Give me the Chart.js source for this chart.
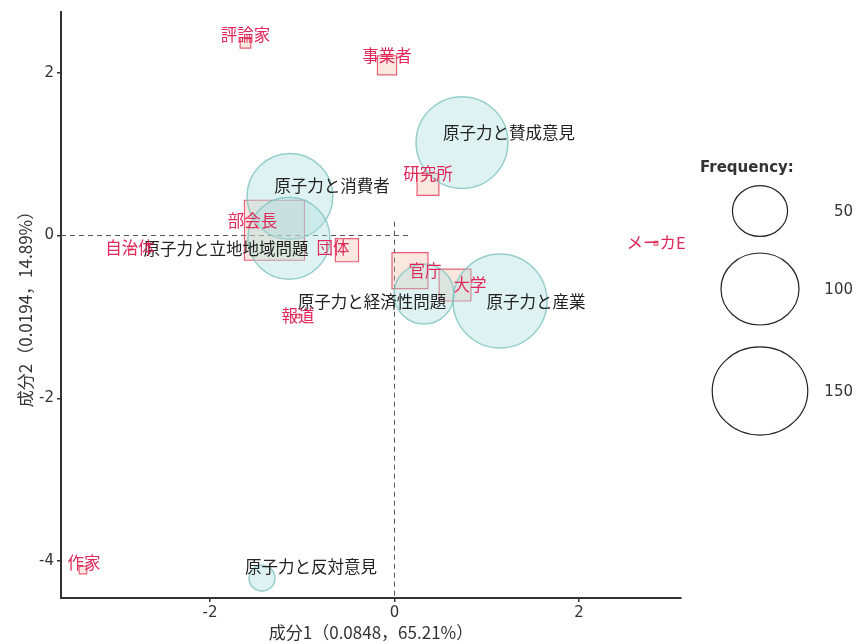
<!DOCTYPE html>
<html>
<head>
<meta charset="utf-8">
<script src="https://cdn.jsdelivr.net/npm/chart.js@4.4.1/dist/chart.umd.min.js"></script>
<style>
  html, body { margin: 0; padding: 0; background: #ffffff; }
  #wrap { width: 858px; height: 644px; }
</style>
</head>
<body>
<div id="wrap"><canvas id="chart" width="858" height="644"></canvas></div>
<script>
// Column categories (topics), correspondence-analysis coordinates and frequencies
const topicLabels = ['原子力と賛成意見', '原子力と消費者', '原子力と立地地域問題', '原子力と経済性問題', '原子力と産業', '原子力と反対意見'];
const topicX = [0.732, -1.133, -1.144, 0.320, 1.144, -1.436];
const topicY = [1.142, 0.481, -0.033, -0.719, -0.804, -4.209];
const topicFreq = [150, 131, 120, 64, 157, 12];

// Row categories (speakers)
const speakerLabels = ['評論家', '事業者', '研究所', '部会長', '自治体', '団体', '官庁', '大学', '報道', 'メーカE', '作家'];
const speakerX = [-1.615, -0.081, 0.363, -1.301, -2.867, -0.515, 0.168, 0.656, -1.046, 2.835, -3.377];
const speakerY = [2.367, 2.091, 0.628, 0.065, -0.156, -0.180, -0.431, -0.609, -0.988, -0.094, -4.111];
const speakerFreq = [4, 13, 17, 128, 0.5, 19, 46, 36, 0.5, 0.5, 2];

// Axes
const xTicks = [-2, 0, 2];
const yTicks = [-4, -2, 0, 2];
const xTitle = '成分1（0.0848，65.21%）';
const yTitle = '成分2（0.0194，14.89%）';
const legendTitle = 'Frequency:';
const legendFreq = [50, 100, 150];

// ---- drawing settings ----
const RADIUS_K = 3.75;                       // px per sqrt(frequency)
const radiusOf = f => RADIUS_K * Math.sqrt(f);
const JP_FONT = '"Noto Sans CJK JP", "Noto Sans", sans-serif';
const NUM_FONT = '"DejaVu Sans", Verdana, sans-serif';

// label offsets in pixels relative to their marker (repelled labels)
const topicLabelOffset = [[47, -10], [42, -11], [-63, 11], [-52, 8], [36, 1], [49, -11]];
const speakerLabelOffset = [[0, -8], [0, -10], [0, -11], [-22, -9], [0, 0], [-14, -2], [15, 0], [15, 0], [0, 0], [0, 0], [1, -7]];

// Bubble controller that does not reserve extra layout room for large markers
class PlainBubbleController extends Chart.BubbleController {
  getMaxOverflow() { return 0; }
}
PlainBubbleController.id = 'plainBubble';
PlainBubbleController.defaults = Chart.BubbleController.defaults;
PlainBubbleController.overrides = Chart.BubbleController.overrides;
Chart.register(PlainBubbleController);

const topicData = topicLabels.map((l, i) => ({ x: topicX[i], y: topicY[i], r: radiusOf(topicFreq[i]) }));
const speakerData = speakerLabels.map((l, i) => ({ x: speakerX[i], y: speakerY[i], r: radiusOf(speakerFreq[i]) }));

// reference lines through the origin
const originLines = {
  id: 'originLines',
  beforeDatasetsDraw(chart) {
    const { ctx, chartArea, scales: { x, y } } = chart;
    const x0 = x.getPixelForValue(0), y0 = y.getPixelForValue(0);
    ctx.save();
    ctx.strokeStyle = '#555';
    ctx.lineWidth = 1;
    ctx.setLineDash([5, 4]);
    ctx.beginPath();
    ctx.moveTo(x0, y.getPixelForValue(0.17));
    ctx.lineTo(x0, chartArea.bottom);
    ctx.moveTo(chartArea.left, y0);
    ctx.lineTo(x.getPixelForValue(0.17), y0);
    ctx.stroke();
    ctx.restore();
  }
};

// text labels next to each marker
const pointLabels = {
  id: 'pointLabels',
  afterDatasetsDraw(chart) {
    const { ctx } = chart;
    const sets = [
      { meta: chart.getDatasetMeta(0), labels: topicLabels, off: topicLabelOffset, color: '#222222' },
      { meta: chart.getDatasetMeta(1), labels: speakerLabels, off: speakerLabelOffset, color: '#e0285a' }
    ];
    ctx.save();
    ctx.font = '16.5px ' + JP_FONT;
    ctx.textAlign = 'center';
    ctx.textBaseline = 'middle';
    sets.forEach(s => {
      ctx.fillStyle = s.color;
      s.meta.data.forEach((el, i) => {
        ctx.fillText(s.labels[i], el.x + s.off[i][0], el.y + s.off[i][1]);
      });
    });
    ctx.restore();
  }
};

// size legend on the right
const sizeLegend = {
  id: 'sizeLegend',
  afterDraw(chart) {
    const { ctx } = chart;
    ctx.save();
    ctx.fillStyle = '#333';
    ctx.font = 'bold 15px ' + NUM_FONT;
    ctx.textAlign = 'left';
    ctx.textBaseline = 'middle';
    ctx.fillText(legendTitle, 700, 168);
    const centersY = [211, 289, 391];
    legendFreq.forEach((f, i) => {
      const r = radiusOf(f);
      ctx.beginPath();
      ctx.ellipse(760, centersY[i], r * 1.04, r * 0.96, 0, 0, Math.PI * 2);
      ctx.strokeStyle = '#222';
      ctx.lineWidth = 1.2;
      ctx.stroke();
      ctx.font = '15px ' + NUM_FONT;
      ctx.textAlign = 'right';
      ctx.fillText(String(f), 853, centersY[i] + 1);
    });
    ctx.restore();
  }
};

new Chart(document.getElementById('chart'), {
  type: 'plainBubble',
  data: {
    datasets: [
      {
        label: 'topics',
        data: topicData,
        backgroundColor: 'rgba(170, 222, 220, 0.38)',
        borderColor: 'rgba(120, 192, 188, 0.75)',
        borderWidth: 1.5,
        pointStyle: 'circle',
        clip: false
      },
      {
        label: 'speakers',
        data: speakerData,
        backgroundColor: 'rgba(240, 180, 160, 0.32)',
        borderColor: 'rgba(226, 72, 96, 0.85)',
        borderWidth: 1.2,
        pointStyle: 'rect',
        clip: false
      }
    ]
  },
  options: {
    responsive: false,
    animation: false,
    devicePixelRatio: 1,
    events: [],
    layout: { padding: { left: 0, right: 177, top: 10, bottom: 0 } },
    plugins: { legend: { display: false }, tooltip: { enabled: false } },
    scales: {
      x: {
        type: 'linear',
        min: -3.615,
        max: 3.106,
        afterFit: s => { s.height = 46; },
        afterBuildTicks: s => { s.ticks = xTicks.map(v => ({ value: v })); },
        ticks: { color: '#333', font: { family: NUM_FONT, size: 15 }, padding: 2 },
        grid: { drawOnChartArea: false, drawTicks: true, tickLength: 4, color: '#333', lineWidth: 1.5 },
        border: { display: true, color: '#333', width: 2 },
        title: { display: true, text: xTitle, color: '#333', font: { family: JP_FONT, size: 17 }, padding: { top: 0, bottom: 1 } }
      },
      y: {
        type: 'linear',
        min: -4.453,
        max: 2.746,
        afterFit: s => { s.width = 61; },
        afterBuildTicks: s => { s.ticks = yTicks.map(v => ({ value: v })); },
        ticks: { color: '#333', font: { family: NUM_FONT, size: 15 }, padding: 3 },
        grid: { drawOnChartArea: false, drawTicks: true, tickLength: 4, color: '#333', lineWidth: 1.5 },
        border: { display: true, color: '#333', width: 2 },
        title: { display: true, text: yTitle, color: '#333', font: { family: JP_FONT, size: 17 }, padding: { top: 15, bottom: 0 } }
      }
    }
  },
  plugins: [originLines, pointLabels, sizeLegend]
});
</script>
</body>
</html>
